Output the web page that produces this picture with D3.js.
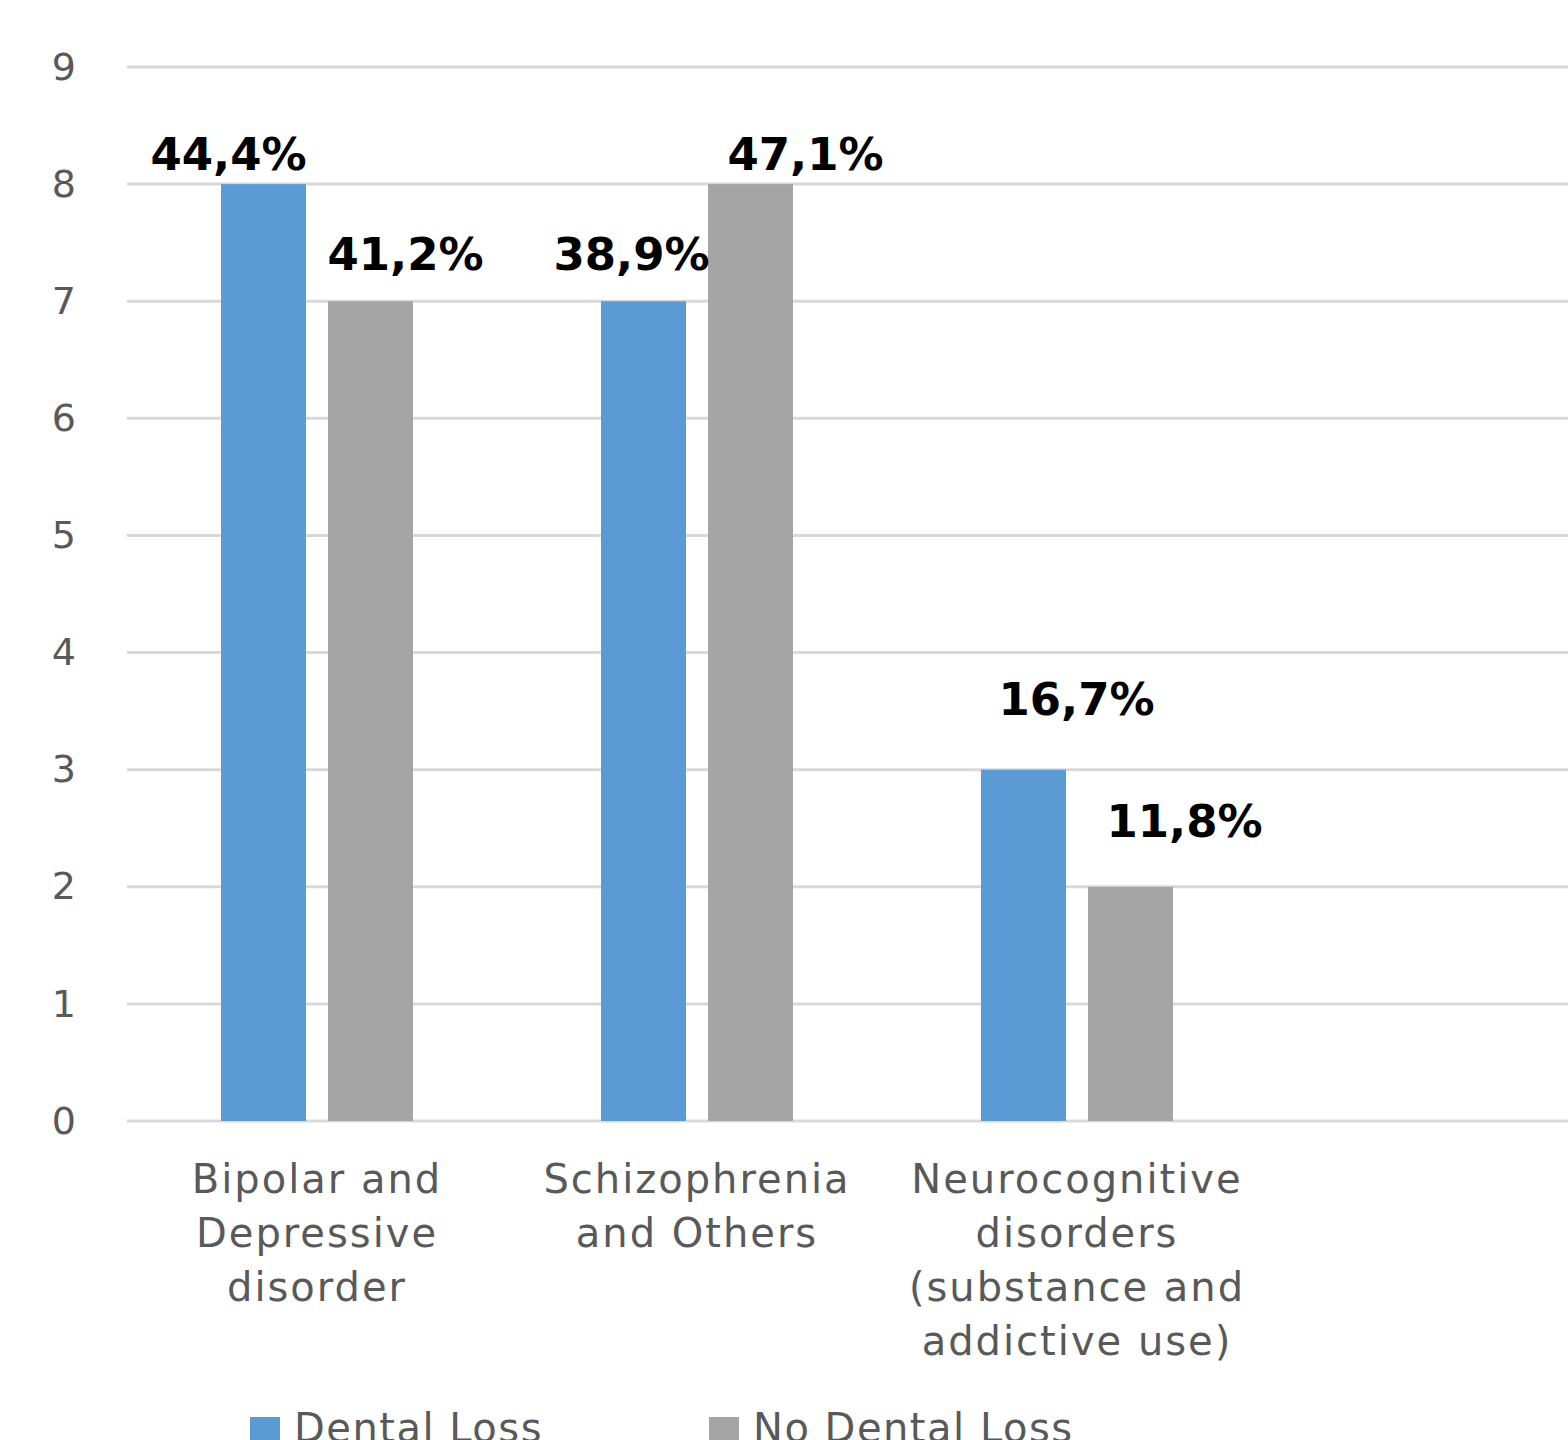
<!DOCTYPE html>
<html>
<head>
<meta charset="utf-8">
<script src="https://cdn.jsdelivr.net/npm/d3@7"></script>
<style>
  html, body { margin: 0; padding: 0; background: #ffffff; }
  svg { display: block; }
</style>
</head>
<body>
<svg id="chart" width="1568" height="1440"></svg>
<script>
// Diagnosis groups (multi-line axis labels)
const categories = [
  ["Bipolar and", "Depressive", "disorder"],
  ["Schizophrenia", "and Others"],
  ["Neurocognitive", "disorders", "(substance and", "addictive use)"]
];
const seriesNames = ["Dental Loss", "No Dental Loss"];
// Patient counts per group
const dentalLoss = [8, 7, 3];
const noDentalLoss = [7, 8, 2];
const yTicks = [0, 1, 2, 3, 4, 5, 6, 7, 8, 9];
// Hand-placed data label nudges [dx, dy] relative to each bar's top centre,
// one row per series, one entry per group
const labelNudge = [
  [[-35, 0], [-12, -17], [53, -41]],
  [[35, -17], [55, 0], [54, -36]]
];

const colors = ["#5b9bd5", "#a5a5a5"];
const series = [dentalLoss, noDentalLoss];

const svg = d3.select("#chart");
const W = 1568;
const plotLeft = 127, plotRight = 1267, y0 = 1121, y9 = 67;

const x = d3.scaleBand()
  .domain(d3.range(categories.length))
  .range([plotLeft, plotRight])
  .padding(0);

const xSub = d3.scaleBand()
  .domain(d3.range(series.length))
  .range([94, 286])
  .paddingInner(22 / 107);

const y = d3.scaleLinear().domain([0, 9]).range([y0, y9]);

// Gridlines
svg.append("g")
  .selectAll("line")
  .data(yTicks)
  .join("line")
  .attr("x1", plotLeft)
  .attr("x2", W + 10)
  .attr("y1", d => y(d))
  .attr("y2", d => y(d))
  .attr("stroke", "#d9d9d9")
  .attr("stroke-width", 3);

// Y axis labels
const yAxis = d3.axisLeft(y).tickValues(yTicks).tickSize(0).tickPadding(0);
const gy = svg.append("g")
  .attr("transform", "translate(76,0)")
  .call(yAxis);
gy.select(".domain").remove();
gy.selectAll("text")
  .attr("font-family", "DejaVu Sans, sans-serif")
  .attr("font-size", 38)
  .attr("fill", "#595959");

// Bars
series.forEach((vals, s) => {
  svg.append("g")
    .selectAll("rect")
    .data(vals)
    .join("rect")
    .attr("x", (d, i) => x(i) + xSub(s))
    .attr("y", d => y(d))
    .attr("width", xSub.bandwidth())
    .attr("height", d => y(0) - y(d))
    .attr("fill", colors[s]);
});

// Data labels: share of each series total
const pctFmt = v => (Math.round(v * 1000) / 10).toFixed(1).replace(".", ",") + "%";
series.forEach((vals, s) => {
  const total = d3.sum(vals);
  svg.append("g")
    .selectAll("text")
    .data(vals)
    .join("text")
    .attr("x", (d, i) => x(i) + xSub(s) + xSub.bandwidth() / 2 + labelNudge[s][i][0])
    .attr("y", (d, i) => y(d) - 14 + labelNudge[s][i][1])
    .attr("text-anchor", "middle")
    .attr("font-family", "DejaVu Sans, sans-serif")
    .attr("font-weight", "bold")
    .attr("font-size", 45)
    .attr("fill", "#000000")
    .text(d => pctFmt(d / total));
});

// Category labels
const catG = svg.append("g");
categories.forEach((lines, i) => {
  const t = catG.append("text")
    .attr("text-anchor", "middle")
    .attr("font-family", "DejaVu Sans, sans-serif")
    .attr("font-size", 40)
    .attr("letter-spacing", 2)
    .attr("fill", "#595959");
  lines.forEach((ln, k) => {
    t.append("tspan")
      .attr("x", x(i) + x.bandwidth() / 2)
      .attr("y", 1193 + k * 54)
      .text(ln);
  });
});

// Legend
const legendX = [250, 709];
const legend = svg.append("g");
seriesNames.forEach((name, s) => {
  legend.append("rect")
    .attr("x", legendX[s])
    .attr("y", 1417)
    .attr("width", 30)
    .attr("height", 30)
    .attr("fill", colors[s]);
  legend.append("text")
    .attr("x", legendX[s] + 44)
    .attr("y", 1442)
    .attr("font-family", "DejaVu Sans, sans-serif")
    .attr("font-size", 40)
    .attr("letter-spacing", 1.5)
    .attr("fill", "#595959")
    .text(name);
});
</script>
</body>
</html>
